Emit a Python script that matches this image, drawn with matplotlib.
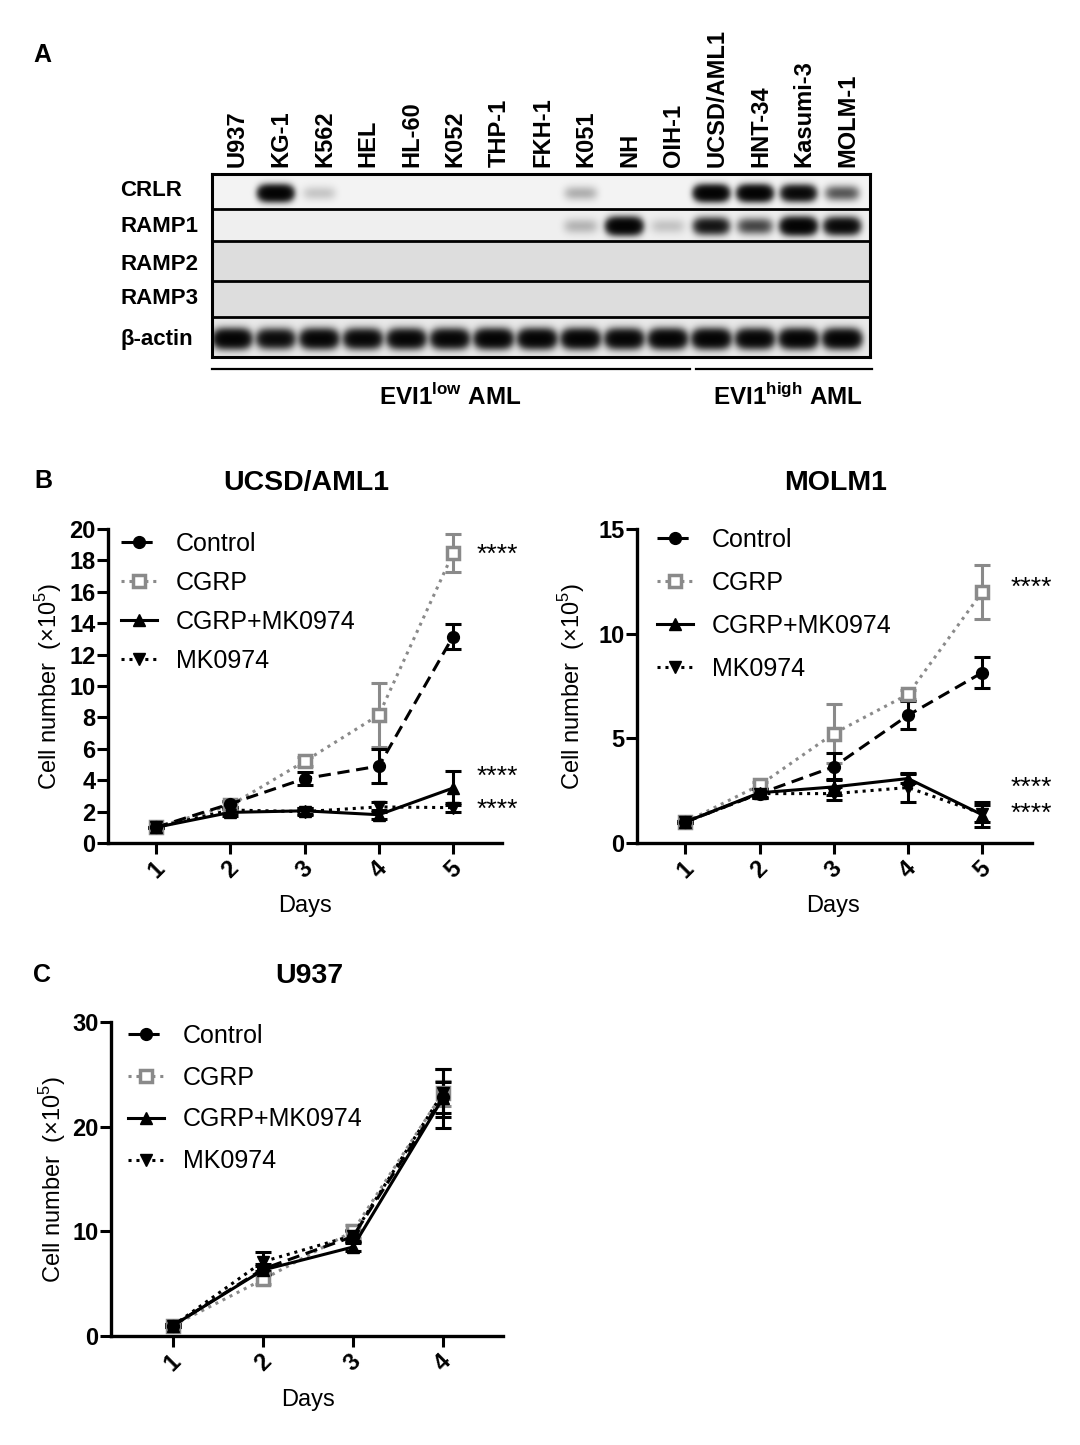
import numpy as np
import matplotlib
matplotlib.use("Agg")
import matplotlib.pyplot as plt
from matplotlib.lines import Line2D

W, H = 1080, 1445
plt.rcParams['font.family'] = ['Liberation Sans', 'DejaVu Sans']
plt.rcParams['mathtext.fontset'] = 'custom'
plt.rcParams['mathtext.rm'] = 'Liberation Sans'
plt.rcParams['mathtext.bf'] = 'Liberation Sans:bold'

NARROW = ['Liberation Sans Narrow', 'Liberation Sans', 'DejaVu Sans']

# ---------------- data: panel A (blot) ----------------
lanes = ["U937", "KG-1", "K562", "HEL", "HL-60", "K052", "THP-1", "FKH-1",
         "K051", "NH", "OIH-1", "UCSD/AML1", "HNT-34", "Kasumi-3", "MOLM-1"]
blot_rows = ["CRLR", "RAMP1", "RAMP2", "RAMP3", "β-actin"]
crlr  = [0, 1.0, 0.05, 0, 0, 0, 0, 0, 0.08, 0.0, 0, 1.0, 1.0, 0.8, 0.25]
ramp1 = [0, 0, 0, 0, 0, 0, 0, 0, 0.07, 1.0, 0.05, 0.6, 0.3, 1.0, 0.8]
ramp2 = [0] * 15
ramp3 = [0] * 15
actin = [0.95, 0.75, 0.9, 0.85, 0.88, 0.88, 0.95, 0.95, 0.95, 0.9, 0.95, 0.95, 0.9, 0.95, 0.95]

# ---------------- data: panel B / C ----------------
days5 = [1, 2, 3, 4, 5]
days4 = [1, 2, 3, 4]
series_names = ["Control", "CGRP", "CGRP+MK0974", "MK0974"]

ucsd_mean = {
    "Control":     [1.0, 2.5, 4.1, 4.9, 13.15],
    "CGRP":        [1.0, 2.4, 5.2, 8.15, 18.45],
    "CGRP+MK0974": [1.0, 1.95, 2.05, 1.8, 3.5],
    "MK0974":      [1.0, 2.1, 2.0, 2.3, 2.25],
}
ucsd_err = {
    "Control":     [0.05, 0.2, 0.4, 1.1, 0.8],
    "CGRP":        [0.05, 0.2, 0.3, 2.05, 1.2],
    "CGRP+MK0974": [0.05, 0.2, 0.2, 0.3, 1.1],
    "MK0974":      [0.05, 0.2, 0.2, 0.3, 0.3],
}
ucsd_stars_y = [18.5, 4.4, 2.3]

molm_mean = {
    "Control":     [1.0, 2.36, 3.64, 6.1, 8.14],
    "CGRP":        [1.0, 2.76, 5.23, 7.1, 12.0],
    "CGRP+MK0974": [1.0, 2.4, 2.68, 3.08, 1.35],
    "MK0974":      [1.0, 2.36, 2.36, 2.65, 1.4],
}
molm_err = {
    "Control":     [0.05, 0.2, 0.65, 0.67, 0.75],
    "CGRP":        [0.05, 0.15, 1.4, 0.2, 1.3],
    "CGRP+MK0974": [0.05, 0.2, 0.4, 0.2, 0.6],
    "MK0974":      [0.05, 0.2, 0.3, 0.7, 0.4],
}
molm_stars_y = [12.3, 2.73, 1.53]

u937_mean = {
    "Control":     [1.0, 6.4, 9.5, 22.8],
    "CGRP":        [1.0, 5.4, 10.0, 23.2],
    "CGRP+MK0974": [1.0, 6.3, 8.5, 22.7],
    "MK0974":      [1.0, 7.1, 9.6, 23.2],
}
u937_err = {
    "Control":     [0.1, 0.5, 0.5, 1.5],
    "CGRP":        [0.1, 0.4, 0.6, 1.2],
    "CGRP+MK0974": [0.1, 0.4, 0.4, 2.8],
    "MK0974":      [0.1, 0.9, 0.5, 2.3],
}

GRAY = '#8a8a8a'
styles = {
    "Control":     dict(color='black', ls=(0, (4, 2.2)), marker='o', ms=8.5, mfc='black', mec='black', mew=1),
    "CGRP":        dict(color=GRAY, ls=(0, (1, 1.6)), marker='s', ms=8, mfc='white', mec=GRAY, mew=2.5),
    "CGRP+MK0974": dict(color='black', ls='-', marker='^', ms=9, mfc='black', mec='black', mew=1),
    "MK0974":      dict(color='black', ls=(0, (1, 1.6)), marker='v', ms=9, mfc='black', mec='black', mew=1),
}

fig = plt.figure(figsize=(W / 100, H / 100), dpi=100)


def box(x0, y0, x1, y1):
    return [x0 / W, 1 - y1 / H, (x1 - x0) / W, (y1 - y0) / H]


def fx(px):
    return px / W


def fy(py):
    return 1 - py / H


# ---------------- Panel A ----------------
bx0, by0, bx1, by1 = 212, 174, 870, 357
axb = fig.add_axes(box(bx0, by0, bx1, by1))
lane_px = 43.6
lane0 = 232
xl0 = (bx0 - lane0) / lane_px
xl1 = (bx1 - lane0) / lane_px
row_edges = [0, 35, 67, 107, 143, 183]
row_bg = [0.955, 0.94, 0.865, 0.865, 0.915]
band_yc = [19, 52, 87, 125, 165]
band_sy = [6.8, 7.2, 7.0, 7.0, 8.0]
band_sx = [0.37, 0.38, 0.38, 0.38, 0.40]
intens = [crlr, ramp1, ramp2, ramp3, actin]

xs = np.linspace(xl0, xl1, 1316)
ys = np.linspace(0, 183, 366)
XX, YY = np.meshgrid(xs, ys)
img = np.ones_like(XX)
for r in range(5):
    m = (YY >= row_edges[r]) & (YY < row_edges[r + 1])
    dark = np.zeros_like(XX)
    for i, val in enumerate(intens[r]):
        if val <= 0:
            continue
        px = np.exp(-(np.abs(XX - i) / band_sx[r]) ** 4)
        py = np.exp(-((YY - band_yc[r]) / band_sy[r]) ** 2)
        dark = dark + 4.0 * val * px * py
    shade = row_bg[r] * np.exp(-dark)
    img[m] = shade[m]
axb.imshow(img, cmap='gray', vmin=0, vmax=1, extent=[xl0, xl1, 183, 0],
           aspect='auto', interpolation='bilinear')
axb.set_xlim(xl0, xl1)
axb.set_ylim(183, 0)
for e in row_edges[1:-1]:
    axb.axhline(e, color='black', lw=2.0)
for s in axb.spines.values():
    s.set_linewidth(2.2)
axb.set_xticks([])
axb.set_yticks([])

for i, name in enumerate(lanes):
    axb.text(i + 0.12, -7, name, rotation=90, ha='center', va='bottom',
             fontsize=17, fontweight='bold', family=NARROW)

row_label_y = [191, 226, 264, 299, 339]
for name, yy in zip(blot_rows, row_label_y):
    fig.text(fx(120), fy(yy), name, ha='left', va='center', fontsize=16,
             fontweight='bold', family=NARROW)

fig.add_artist(Line2D([fx(212), fx(690)], [fy(369), fy(369)], color='black', lw=1.6))
fig.add_artist(Line2D([fx(696), fx(872)], [fy(369), fy(369)], color='black', lw=1.6))
fig.text(fx(450), fy(405), r"EVI1$^{\mathbf{low}}$ AML", ha='center', va='baseline',
         fontsize=17.5, fontweight='bold', family=NARROW)
fig.text(fx(788), fy(405), r"EVI1$^{\mathbf{high}}$ AML", ha='center', va='baseline',
         fontsize=17.5, fontweight='bold', family=NARROW)

# panel letters
fig.text(fx(33), fy(62), "A", fontsize=18, fontweight='bold', va='baseline')
fig.text(fx(34), fy(488), "B", fontsize=18, fontweight='bold', va='baseline')
fig.text(fx(33), fy(982), "C", fontsize=18, fontweight='bold', va='baseline')


def growth_panel(rect, days, means, errs, ylim, yticks, xlim, title, title_xy,
                 ylabel_x, days_xy, legend_anchor, labelspacing, stars_y=None, stars_x=None):
    ax = fig.add_axes(box(*rect))
    handles = []
    order = ["CGRP", "MK0974", "CGRP+MK0974", "Control"]
    for name in order:
        st = styles[name]
        ax.errorbar(days, means[name], yerr=errs[name], fmt='none', ecolor=st['color'],
                    elinewidth=2.2, capsize=6, capthick=2.2, zorder=2, clip_on=False)
    for name in order:
        st = styles[name]
        ax.plot(days, means[name], color=st['color'], ls=st['ls'], lw=2.2,
                marker=st['marker'], ms=st['ms'], mfc=st['mfc'], mec=st['mec'],
                mew=st['mew'], zorder=3, clip_on=False)
    for name in series_names:
        st = styles[name]
        handles.append(Line2D([], [], color=st['color'], ls=st['ls'], lw=2.2,
                              marker=st['marker'], ms=st['ms'], mfc=st['mfc'],
                              mec=st['mec'], mew=st['mew']))
    ax.set_xlim(*xlim)
    ax.set_ylim(*ylim)
    ax.set_yticks(yticks)
    ax.set_yticklabels([str(t) for t in yticks], fontsize=17, fontweight='bold')
    ax.set_xticks(days)
    ax.set_xticklabels([str(d) for d in days], fontsize=17, fontweight='bold',
                       rotation=45, ha='center')
    ax.tick_params(axis='both', direction='out', length=8, width=2.2)
    ax.tick_params(axis='y', pad=1)
    ax.tick_params(axis='x', pad=2)
    for side in ['top', 'right']:
        ax.spines[side].set_visible(False)
    for side in ['left', 'bottom']:
        ax.spines[side].set_linewidth(2.4)
    ax.legend(handles, series_names, loc='upper left', bbox_to_anchor=legend_anchor,
              bbox_transform=fig.transFigure, frameon=False, fontsize=18,
              handlelength=1.45, handletextpad=0.75, labelspacing=labelspacing,
              borderpad=0, borderaxespad=0)
    fig.text(fx(title_xy[0]), fy(title_xy[1]), title, ha='center', va='baseline',
             fontsize=20.5, fontweight='bold')
    fig.text(fx(ylabel_x), fy((rect[1] + rect[3]) / 2), "Cell number  (×10$^{5}$)",
             rotation=90, ha='center', va='center', fontsize=17)
    fig.text(fx(days_xy[0]), fy(days_xy[1]), "Days", ha='center', va='center', fontsize=17)
    if stars_y is not None:
        for yv in stars_y:
            ax.text(stars_x, yv, "****", ha='left', va='center_baseline', fontsize=19,
                    clip_on=False)
    return ax


growth_panel((108, 529, 502, 843), days5, ucsd_mean, ucsd_err, (0, 20), list(range(0, 21, 2)),
             (0.35, 5.66), "UCSD/AML1", (306, 490), 49, (305, 906),
             (fx(121), fy(532)), 0.6, ucsd_stars_y, 5.32)
growth_panel((637, 529, 1032, 843), days5, molm_mean, molm_err, (0, 15), [0, 5, 10, 15],
             (0.35, 5.67), "MOLM1", (836, 490), 572, (833, 906),
             (fx(657), fy(528)), 0.76, molm_stars_y, 5.38)
growth_panel((111, 1022, 503, 1336), days4, u937_mean, u937_err, (0, 30), [0, 10, 20, 30],
             (0.31, 4.67), "U937", (309, 983), 53, (308, 1400),
             (fx(128), fy(1024)), 0.71)

fig.savefig("out.png", dpi=100)
